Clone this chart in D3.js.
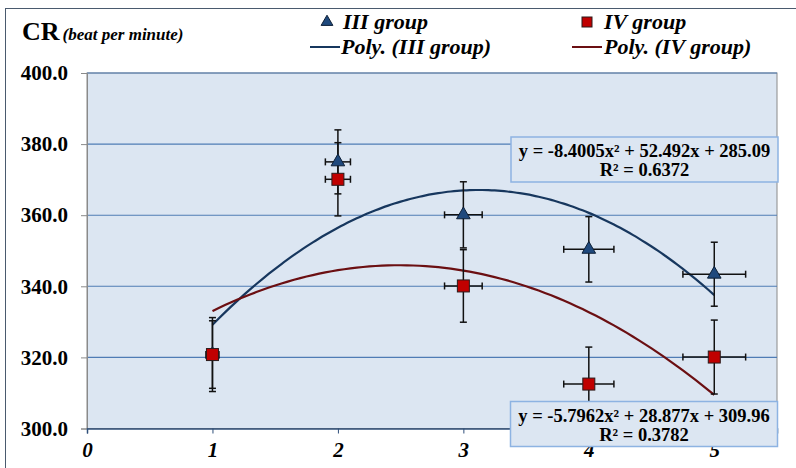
<!DOCTYPE html>
<html>
<head>
<meta charset="utf-8">
<script src="https://cdn.jsdelivr.net/npm/d3@7"></script>
<style>
  body { margin: 0; background: #ffffff; }
  text { font-family: "Liberation Serif", "Times New Roman", serif; font-weight: bold; }
</style>
</head>
<body>
<svg id="canvas"></svg>
<script>
// Data.
var xValues = [1, 2, 3, 4, 5];
var group3 = [320.8, 375.0, 360.1, 350.4, 343.4];
var group3Err = [10.4, 9.0, 9.3, 9.2, 9.0];
var group4 = [320.8, 370.1, 340.1, 312.5, 320.1];
var group4Err = [9.5, 10.3, 10.2, 10.4, 10.4];
var xErr = [0.05, 0.1, 0.15, 0.2, 0.25];

// Trendline coefficients as printed on the chart (a, b, c for ax^2 + bx + c).
var poly3 = [-8.4005, 52.492, 285.09];
var poly4 = [-5.7962, 28.877, 309.96];
var eq3Lines = ['y = -8.4005x² + 52.492x + 285.09', 'R² = 0.6372'];
var eq4Lines = ['y = -5.7962x² + 28.877x + 309.96', 'R² = 0.3782'];

var xTicks = [0, 1, 2, 3, 4, 5];
var yTicks = [300, 320, 340, 360, 380, 400];

// Canvas.
var canvasWidth = 796;
var canvasHeight = 468;
var svg = d3.select('#canvas')
            .attr('width', canvasWidth)
            .attr('height', canvasHeight);

// Plot area.
var plotLeft = 87, plotRight = 777, plotTop = 73, plotBottom = 428.5;

var xScale = d3.scaleLinear().domain([0, 5.5]).range([plotLeft, plotRight]);
var yScale = d3.scaleLinear().domain([300, 400]).range([plotBottom, plotTop]);

// Outer chart border.
svg.append('rect')
   .attr('x', 5.5).attr('y', 8.5)
   .attr('width', 800).attr('height', 470)
   .attr('fill', 'none')
   .attr('stroke', '#4a5a6e')
   .attr('stroke-width', 1);

// Plot background.
svg.append('rect')
   .attr('x', plotLeft).attr('y', plotTop)
   .attr('width', plotRight - plotLeft).attr('height', plotBottom - plotTop)
   .attr('fill', '#dce6f2')
   .attr('stroke', '#8a8a8a')
   .attr('stroke-width', 1);

// Horizontal gridlines.
svg.append('g').selectAll('line')
   .data(yTicks.slice(1))
   .enter().append('line')
   .attr('x1', plotLeft).attr('x2', plotRight)
   .attr('y1', function(d) { return yScale(d); })
   .attr('y2', function(d) { return yScale(d); })
   .attr('stroke', '#4f7cb5')
   .attr('stroke-width', 1.1);

// Y axis ticks and labels.
var yAxis = d3.axisLeft(yScale).tickValues(yTicks).tickSize(6).tickPadding(13)
              .tickFormat(d3.format('.1f'));
var gy = svg.append('g').attr('transform', 'translate(' + plotLeft + ',0)').call(yAxis);
gy.select('.domain').attr('stroke', '#8a8a8a');
gy.selectAll('.tick line').attr('stroke', '#8a8a8a');
gy.selectAll('.tick text')
  .attr('font-size', 21).attr('fill', '#000')
  .attr('font-family', '"Liberation Serif", serif').attr('font-weight', 'bold');

// X axis ticks and labels.
var xAxis = d3.axisBottom(xScale).tickValues(xTicks).tickSize(5).tickPadding(9)
              .tickFormat(d3.format('d'));
var gx = svg.append('g').attr('transform', 'translate(0,' + plotBottom + ')').call(xAxis);
gx.select('.domain').attr('stroke', '#2f4f7a').attr('stroke-width', 1.5);
gx.selectAll('.tick line').attr('stroke', '#2f4f7a');
gx.selectAll('.tick text')
  .attr('font-size', 21).attr('fill', '#000')
  .attr('font-family', '"Liberation Serif", serif').attr('font-weight', 'bold')
  .attr('font-style', 'italic');

// Trendlines.
var polyPoints = function(coef) {
  return d3.range(1, 5.001, 0.05).map(function(x) {
    return [x, coef[0] * x * x + coef[1] * x + coef[2]];
  });
};
var line = d3.line()
             .x(function(d) { return xScale(d[0]); })
             .y(function(d) { return yScale(d[1]); })
             .curve(d3.curveMonotoneX);

svg.append('path').datum(polyPoints(poly3))
   .attr('d', line).attr('fill', 'none')
   .attr('stroke', '#17375e').attr('stroke-width', 2.2);
svg.append('path').datum(polyPoints(poly4))
   .attr('d', line).attr('fill', 'none')
   .attr('stroke', '#6b0f12').attr('stroke-width', 2.2);

// Error bars for one group.
var drawErrors = function(values, errs) {
  var g = svg.append('g').attr('stroke', '#111').attr('stroke-width', 1.5);
  values.forEach(function(v, i) {
    var cx = xScale(xValues[i]);
    var cy = yScale(v);
    var y1 = yScale(v + errs[i]), y2 = yScale(v - errs[i]);
    var x1 = xScale(xValues[i] - xErr[i]), x2 = xScale(xValues[i] + xErr[i]);
    g.append('line').attr('x1', cx).attr('x2', cx).attr('y1', y1).attr('y2', y2);
    g.append('line').attr('x1', cx - 3.5).attr('x2', cx + 3.5).attr('y1', y1).attr('y2', y1);
    g.append('line').attr('x1', cx - 3.5).attr('x2', cx + 3.5).attr('y1', y2).attr('y2', y2);
    g.append('line').attr('x1', x1).attr('x2', x2).attr('y1', cy).attr('y2', cy);
    g.append('line').attr('x1', x1).attr('x2', x1).attr('y1', cy - 3.5).attr('y2', cy + 3.5);
    g.append('line').attr('x1', x2).attr('x2', x2).attr('y1', cy - 3.5).attr('y2', cy + 3.5);
  });
};
drawErrors(group3, group3Err);
drawErrors(group4, group4Err);

// Markers.
var triangle = d3.symbol().type(d3.symbolTriangle).size(80);
svg.append('g').selectAll('path')
   .data(group3).enter().append('path')
   .attr('d', triangle)
   .attr('transform', function(d, i) { return 'translate(' + xScale(xValues[i]) + ',' + yScale(d) + ')'; })
   .attr('fill', '#1f497d').attr('stroke', '#0d1f36').attr('stroke-width', 1);

svg.append('g').selectAll('rect')
   .data(group4).enter().append('rect')
   .attr('x', function(d, i) { return xScale(xValues[i]) - 6; })
   .attr('y', function(d) { return yScale(d) - 6; })
   .attr('width', 12).attr('height', 12)
   .attr('fill', '#c00000').attr('stroke', '#2a1a1a').attr('stroke-width', 1);

// Equation boxes.
var drawEquation = function(lines, bx, by) {
  var g = svg.append('g');
  g.append('rect')
   .attr('x', bx).attr('y', by).attr('width', 267).attr('height', 45)
   .attr('fill', '#dce6f2').attr('stroke', '#8db3e2').attr('stroke-width', 1.5);
  lines.forEach(function(t, i) {
    g.append('text')
     .attr('x', bx + 133.5).attr('y', by + 20 + i * 19)
     .attr('text-anchor', 'middle')
     .attr('font-size', 18.5)
     .text(t);
  });
};
drawEquation(eq3Lines, 511, 137);
drawEquation(eq4Lines, 510.5, 401.5);

// Y axis title.
var title = svg.append('text').attr('x', 22).attr('y', 40);
title.append('tspan').attr('font-size', 26).text('CR');
title.append('tspan').attr('font-size', 17).attr('font-style', 'italic').attr('dx', 3).text('(beat per minute)');

// Legend.
var legend = svg.append('g').attr('font-size', 22).attr('font-style', 'italic');
legend.append('path').attr('d', d3.symbol().type(d3.symbolTriangle).size(60))
      .attr('transform', 'translate(327,22)')
      .attr('fill', '#1f497d').attr('stroke', '#0d1f36');
legend.append('text').attr('x', 343).attr('y', 29).text('III group');
legend.append('rect').attr('x', 582).attr('y', 17).attr('width', 10).attr('height', 10)
      .attr('fill', '#c00000').attr('stroke', '#2a1a1a');
legend.append('text').attr('x', 604).attr('y', 29).text('IV group');
legend.append('line').attr('x1', 310).attr('x2', 340).attr('y1', 47).attr('y2', 47)
      .attr('stroke', '#17375e').attr('stroke-width', 2);
legend.append('text').attr('x', 341).attr('y', 54).text('Poly. (III group)');
legend.append('line').attr('x1', 572).attr('x2', 602).attr('y1', 47).attr('y2', 47)
      .attr('stroke', '#6b0f12').attr('stroke-width', 2);
legend.append('text').attr('x', 604).attr('y', 54).text('Poly. (IV group)');
</script>
</body>
</html>
